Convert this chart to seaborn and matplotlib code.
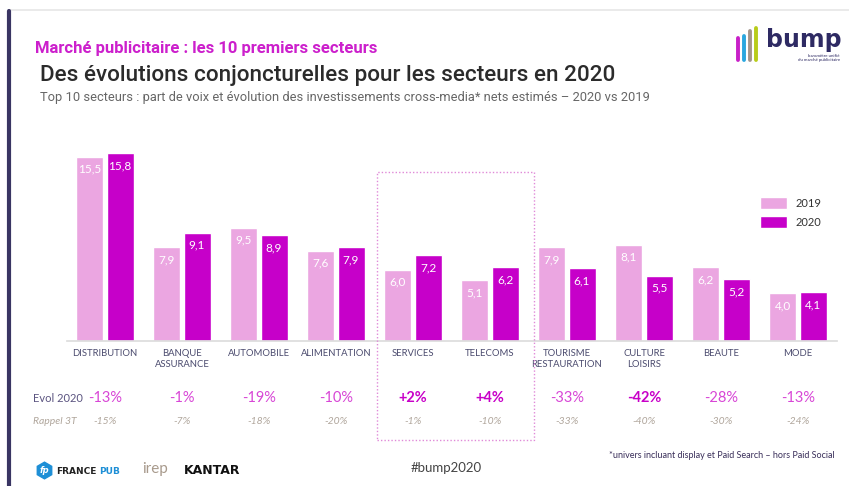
import pandas as pd
import matplotlib.pyplot as plt
import seaborn as sns
from matplotlib.patches import Rectangle, Patch
from matplotlib.lines import Line2D

# Data
sectors = ['DISTRIBUTION', 'BANQUE\nASSURANCE', 'AUTOMOBILE', 'ALIMENTATION', 'SERVICES',
           'TELECOMS', 'TOURISME\nRESTAURATION', 'CULTURE\nLOISIRS', 'BEAUTE', 'MODE']
share_2019 = [15.5, 7.9, 9.5, 7.6, 6.0, 5.1, 7.9, 8.1, 6.2, 4.0]
share_2020 = [15.8, 9.1, 8.9, 7.9, 7.2, 6.2, 6.1, 5.5, 5.2, 4.1]
evol_2020 = ['-13%', '-1%', '-19%', '-10%', '+2%', '+4%', '-33%', '-42%', '-28%', '-13%']
evol_bold = [False, False, False, False, True, True, False, True, False, False]
rappel_3t = ['-15%', '-7%', '-18%', '-20%', '-1%', '-10%', '-33%', '-40%', '-30%', '-24%']

df = pd.DataFrame({
    'secteur': sectors * 2,
    'annee': ['2019'] * 10 + ['2020'] * 10,
    'part': share_2019 + share_2020,
})

c2019 = '#EBA6E1'
c2020 = '#C600C9'

sns.set_theme(style='white')
plt.rcParams['font.family'] = ['Lato', 'DejaVu Sans']

W, H = 849, 486
fig = plt.figure(figsize=(W / 100, H / 100), dpi=100)


def fx(px):
    return px / W


def fy(py):
    return 1 - py / H


ax = fig.add_axes([fx(66.5), fy(341), fx(836.5) - fx(66.5), fy(144.6) - fy(341)])
sns.barplot(data=df, x='secteur', y='part', hue='annee', palette=[c2019, c2020],
            width=0.78, gap=0.1, saturation=1, ax=ax, legend=False)
ax.set_ylim(0, 16.5)
ax.set_xlim(-0.5, 9.5)
ax.set_xlabel('')
ax.set_ylabel('')
ax.set_yticks([])
sns.despine(ax=ax, left=True, top=True, right=True)
ax.spines['bottom'].set_color('#DDDDDD')
ax.tick_params(axis='x', length=0, pad=6, labelsize=6.8, labelcolor='#4B4B6E')
for lbl in ax.get_xticklabels():
    lbl.set_linespacing(1.2)

# value labels inside bars
for cont in ax.containers:
    for bar in cont:
        v = bar.get_height()
        ax.annotate(f'{v:.1f}'.replace('.', ','),
                    (bar.get_x() + bar.get_width() / 2, v),
                    xytext=(0, -9), textcoords='offset points',
                    ha='center', va='center', color='white', fontsize=8.5)

# evolution rows
fig.text(fx(33), fy(398), 'Evol 2020', fontsize=8, color='#5B5480', va='center')
fig.text(fx(33), fy(421), 'Rappel 3T', fontsize=7.5, color='#B0A69C', va='center',
         style='italic')
for i in range(len(sectors)):
    xt = ax.transData.transform((i, 0))[0] / W
    fig.text(xt, fy(398), evol_2020[i], ha='center', va='center', fontsize=10.5,
             color='#C800C8' if evol_bold[i] else '#D846D6',
             fontweight='bold' if evol_bold[i] else 'normal')
    fig.text(xt, fy(421), rappel_3t[i], ha='center', va='center', fontsize=7.5,
             color='#B0A69C', style='italic')

# dotted frame around SERVICES / TELECOMS
fig.patches.append(Rectangle((fx(377), fy(440)), fx(534) - fx(377), fy(172) - fy(440),
                             transform=fig.transFigure, fill=False, edgecolor='#E08AD8',
                             linestyle=(0, (1, 1.5)), linewidth=1))

# legend
handles = [Patch(facecolor=c2019, label='2019'), Patch(facecolor=c2020, label='2020')]
fig.legend(handles=handles, loc='upper left', bbox_to_anchor=(fx(750), fy(187)),
           frameon=False, fontsize=8, handlelength=2.4, handleheight=1.3,
           labelspacing=0.6, handletextpad=0.8, labelcolor='#333333')

# header
fig.lines.append(Line2D([fx(10), fx(849)], [fy(10), fy(10)], transform=fig.transFigure,
                        color='#E6E6E6', linewidth=1.2))
fig.lines.append(Line2D([fx(8.5), fx(8.5)], [fy(11), fy(486)], transform=fig.transFigure,
                        color='#3A3563', linewidth=3))
fig.text(fx(35), fy(48), 'Marché publicitaire : les 10 premiers secteurs', fontsize=12,
         color='#CC1FCC', fontweight='bold', va='center', family=['Roboto', 'DejaVu Sans'])
fig.text(fx(40), fy(76), 'Des évolutions conjoncturelles pour les secteurs en 2020',
         fontsize=16.2, color='#2B2B2B', va='center', fontweight='medium',
         family=['Roboto', 'DejaVu Sans'])
fig.text(fx(40), fy(98),
         'Top 10 secteurs : part de voix et évolution des investissements cross-media* nets estimés – 2020 vs 2019',
         fontsize=9.3, color='#666666', va='center', family=['Roboto', 'DejaVu Sans'])

# bump logo
for xp, y_top, col in [(738, 38, '#C81FC8'), (744, 36, '#2AA7DF'), (750, 31, '#A3958A'),
                       (756, 28, '#B8CC1A')]:
    fig.lines.append(Line2D([fx(xp), fx(xp)], [fy(60), fy(y_top)], transform=fig.transFigure,
                            color=col, linewidth=2.8, solid_capstyle='round'))
fig.text(fx(766), fy(40), 'bump', fontsize=17, color='#2E2A63', fontweight='bold',
         va='center', family='DejaVu Sans')
fig.text(fx(840), fy(58), 'baromètre unifié\ndu marché publicitaire', fontsize=3.2,
         color='#2E2A63', ha='right', va='center', linespacing=1.1)

# footer
fig.text(fx(835), fy(455), '*univers incluant display et Paid Search – hors Paid Social',
         fontsize=6.5, color='#3A2F5A', ha='right', va='center')
fig.text(fx(446), fy(468), '#bump2020', fontsize=9.5, color='#444444', ha='center',
         va='center')
fig.lines.append(Line2D([fx(44)], [fy(470)], transform=fig.transFigure, marker='h',
                        markersize=12, color='#1E8FD6', linestyle='none'))
fig.text(fx(44), fy(470), 'fp', fontsize=6, color='white', ha='center', va='center',
         style='italic', fontweight='bold', family='DejaVu Sans')
fig.text(fx(56), fy(471), 'FRANCE', fontsize=6.5, color='#222222', fontweight='bold',
         va='center', family='DejaVu Sans')
fig.text(fx(99), fy(471), 'PUB', fontsize=6.5, color='#1E8FD6', fontweight='bold',
         va='center', family='DejaVu Sans')
fig.text(fx(142), fy(469), 'irep', fontsize=11, color='#A89A8C', va='center')
fig.text(fx(184), fy(470), 'KANTAR', fontsize=9, color='#111111', fontweight='bold',
         va='center', family='DejaVu Sans')

fig.savefig('out.png', dpi=100)
